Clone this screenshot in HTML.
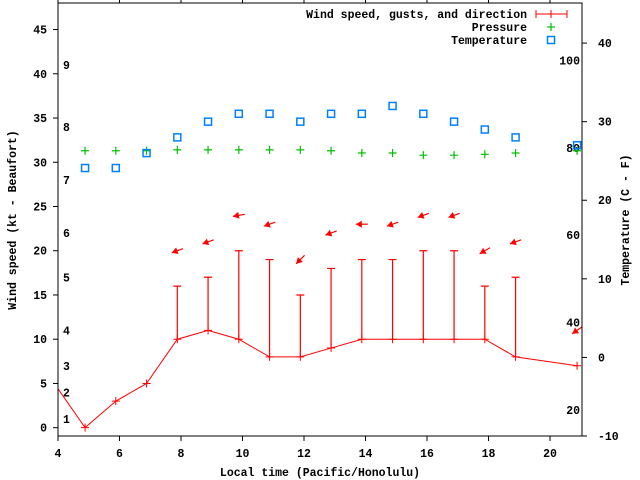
<!DOCTYPE html>
<html><head><meta charset="utf-8"><style>
html,body{margin:0;padding:0;background:#fff;}
svg{display:block;font-family:"Liberation Mono",monospace;font-weight:bold;font-size:11.5px;}
</style></head><body>
<svg id="chart" width="640" height="480" viewBox="0 0 640 480" xmlns="http://www.w3.org/2000/svg">
<rect x="0" y="0" width="640" height="480" fill="#fff"/>
<g id="ticks"></g>
<g id="beaufort"></g>
<g id="fahr"></g>
<g id="series"></g>
<rect x="58" y="3" width="524" height="433" fill="none" stroke="#000" stroke-width="1"/>
<text transform="translate(16,220) rotate(-90)" text-anchor="middle">Wind speed (kt - Beaufort)</text>
<text transform="translate(629,220) rotate(-90)" text-anchor="middle">Temperature (C - F)</text>
<text x="320" y="476" text-anchor="middle">Local time (Pacific/Honolulu)</text>
<g>
<text x="527" y="18" text-anchor="end">Wind speed, gusts, and direction</text>
<g stroke="#f00" stroke-width="1"><line x1="536" y1="14" x2="567" y2="14"/><line x1="536" y1="10" x2="536" y2="18"/><line x1="567" y1="10" x2="567" y2="18"/><line x1="551" y1="10" x2="551" y2="18"/></g>
<text x="527" y="31" text-anchor="end">Pressure</text>
<g stroke="#00c000" stroke-width="1.2"><line x1="547" y1="27" x2="555" y2="27"/><line x1="551" y1="23" x2="551" y2="31"/></g>
<text x="527" y="44" text-anchor="end">Temperature</text>
<rect x="547.5" y="36.5" width="7" height="7" fill="none" stroke="#0080ff" stroke-width="1.5"/>
</g>
</svg>
<script>
const times = [3.88,4.88,5.88,6.88,7.88,8.88,9.88,10.88,11.88,12.88,13.88,14.88,15.88,16.88,17.88,18.88,20.88];
const windSpeed = [5,0,3,5,10,11,10,8,8,9,10,10,10,10,10,8,7];
const windGust = [null,null,null,null,16,17,20,19,15,18,19,19,20,20,16,17,null];
const windDir = [null,null,null,null,70,70,80,70,45,70,90,70,70,70,60,70,55];
const arrowY = [null,null,null,null,20,21,24,23,19,22,23,23,24,24,20,21,11];
const pressure = [null,31.3,31.3,31.3,31.4,31.4,31.4,31.4,31.4,31.3,31.05,31.05,30.8,30.8,30.9,31.05,31.3];
const tempC = [null,24.1,24.1,26,28,30,31,31,30,31,31,32,31,30,29,28,27];
const xTicks = [4,6,8,10,12,14,16,18,20];
const yTicks = [0,5,10,15,20,25,30,35,40,45];
const y2Ticks = [-10,0,10,20,30,40];
const fTicks = [20,40,60,80,100];
const beaufortKt = [1,4,7,11,17,22,28,34,41];
const beaufortLabels = ["1","2","3","4","5","6","7","8","9"];

const L=58,R=582,T=3,B=436;
const xMin=4,xMax=21.04,yMin=-0.94,yMax=48.0,y2Min=-10,y2Max=45.1;
const X=t=>L+(t-xMin)/(xMax-xMin)*(R-L);
const Y=v=>B-(v-yMin)/(yMax-yMin)*(B-T);
const Y2=c=>B-(c-y2Min)/(y2Max-y2Min)*(B-T);
const NS="http://www.w3.org/2000/svg";
function mk(tag,attrs,parent){const e=document.createElementNS(NS,tag);for(const k in attrs)e.setAttribute(k,attrs[k]);parent.appendChild(e);return e;}
const ticks=document.getElementById('ticks');
xTicks.forEach(t=>{
  const x=X(t);
  let l=mk('line',{x1:x,y1:B,x2:x,y2:B+5,stroke:'#000'},ticks);
  
  
  let l2=mk('line',{x1:x,y1:T,x2:x,y2:T-5,stroke:'#000'},ticks);
  
  
  let tx=mk('text',{x:x,y:457,'text-anchor':'middle'},ticks);tx.textContent=t;
  
  
});
yTicks.forEach(v=>{
  const y=Y(v);
  let l=mk('line',{x1:L-5,y1:y,x2:L,y2:y,stroke:'#000'},ticks);
  
  
  let tx=mk('text',{x:47,y:y+4,'text-anchor':'end'},ticks);tx.textContent=v;
  
  
});
y2Ticks.forEach(c=>{
  const y=Y2(c);
  let l=mk('line',{x1:R,y1:y,x2:R+5,y2:y,stroke:'#000'},ticks);
  
  
  let tx=mk('text',{x:598,y:y+4},ticks);tx.textContent=c;
  
  
});
const bf=document.getElementById('beaufort');
beaufortKt.forEach((k,i)=>{
  let tx=mk('text',{x:63,y:Y(k)+4},bf);tx.textContent=beaufortLabels[i];
  
  
});
const fg=document.getElementById('fahr');
fTicks.forEach(f=>{
  let tx=mk('text',{x:580,y:Y2((f-32)*5/9)+4,'text-anchor':'end'},fg);tx.textContent=f;
  
  
});
const sg=document.getElementById('series');
const cp=mk('clipPath',{id:'clip'},sg);mk('rect',{x:L,y:T,width:R-L,height:B-T},cp);
const g=mk('g',{'clip-path':'url(#clip)'},sg);
let pts=times.map((t,i)=>X(t)+','+Y(windSpeed[i])).join(' ');
let pl=mk('polyline',{points:pts,fill:'none',stroke:'#f00','stroke-width':1},g);


times.forEach((t,i)=>{
  const x=X(t),y=Y(windSpeed[i]);
  let p=mk('path',{d:`M${x-4},${y}H${x+4}M${x},${y-4}V${y+4}`,stroke:'#f00','stroke-width':1},g);
  
  
  if(windGust[i]!=null){
    const yg=Y(windGust[i]);
    let e=mk('path',{d:`M${x},${y}V${yg}M${x-4},${yg}H${x+4}`,stroke:'#f00','stroke-width':1.2},g);
    
    
  }
  if(windDir[i]!=null){
    const a=(90-windDir[i])*Math.PI/180, cy=Y(arrowY[i]);
    const dx=6*Math.cos(a), dy=-6*Math.sin(a);
    const tx=x+dx,ty=cy+dy,hx=x-dx,hy=cy-dy;
    const ux=-Math.cos(a),uy=Math.sin(a);
    const bx=hx-ux*6,by=hy-uy*6;
    let ar=mk('g',{},g);
    
    
    mk('line',{x1:tx,y1:ty,x2:hx,y2:hy,stroke:'#f00','stroke-width':1.2},ar);
    mk('polygon',{points:`${hx},${hy} ${bx-uy*3.5},${by+ux*3.5} ${bx+uy*3.5},${by-ux*3.5}`,fill:'#f00'},ar);
  }
  if(pressure[i]!=null){
    const yp=Y(pressure[i]);
    let p2=mk('path',{d:`M${x-4},${yp}H${x+4}M${x},${yp-4}V${yp+4}`,stroke:'#00c000','stroke-width':1.2},g);
    
    
  }
  if(tempC[i]!=null){
    const yt=Y2(tempC[i]);
    let r=mk('rect',{x:x-3.5,y:yt-3.5,width:7,height:7,fill:'none',stroke:'#0080ff','stroke-width':1.5},sg);
    
    
  }
});
</script>
</body></html>
